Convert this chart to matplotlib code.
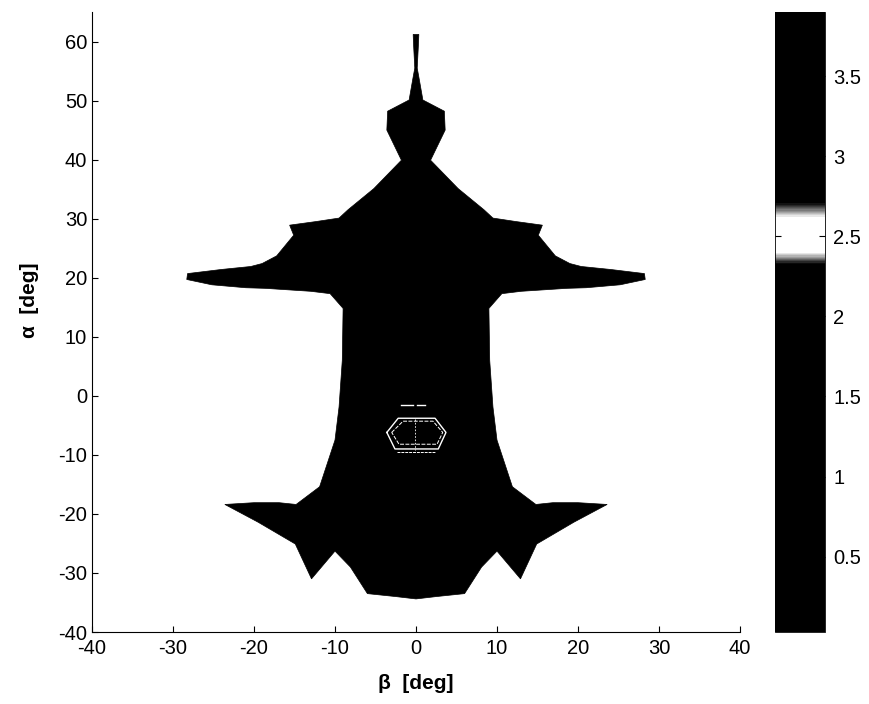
import numpy as np
import matplotlib.pyplot as plt
from matplotlib.colors import LinearSegmentedColormap, Normalize
from matplotlib.cm import ScalarMappable

plt.rcParams['font.family'] = ['Liberation Sans', 'DejaVu Sans']
plt.rcParams['axes.unicode_minus'] = False

# right half of the domain outline (beta >= 0), top to bottom; the shape is symmetric in beta
beta_right = np.array([0.0, 0.35, 0.3, 0.15, 0.35, 0.85, 3.5, 3.6, 1.8, 5.2, 8.4, 9.5,
                       12.4, 15.6, 15.1, 17.2, 19.0, 20.4, 24.0, 28.2, 28.3, 25.2, 21.0, 18.6,
                       13.0, 10.6, 9.0, 9.1, 9.5, 10.0, 11.9, 14.8, 16.9, 20.0, 23.6, 19.5,
                       14.9, 12.9, 10.0, 8.1, 6.0, 2.5, 0.0])
alpha_right = np.array([61.2, 61.2, 59.5, 55.5, 54.0, 50.1, 48.2, 45.0, 39.9, 35.1, 31.5, 30.1,
                        29.5, 28.9, 27.2, 23.7, 22.4, 21.9, 21.4, 20.7, 19.7, 18.8, 18.3, 18.2,
                        17.7, 17.3, 14.8, 6.0, -1.9, -7.5, -15.4, -18.4, -18.1, -18.1, -18.4, -21.4,
                        -25.1, -31.0, -26.3, -29.0, -33.5, -34.0, -34.4])
fill_level = 1.0

# white contour lines (level ~2.5) near the centre
outer_beta = [-3.6, -2.2, 2.35, 3.7, 2.75, -2.6, -3.6]
outer_alpha = [-6.2, -3.8, -3.8, -6.2, -9.0, -9.0, -6.2]
inner_beta = [-3.0, -1.6, 2.1, 3.3, 2.6, -2.1, -3.0]
inner_alpha = [-6.2, -4.3, -4.3, -6.2, -8.2, -8.2, -6.2]
top_dash_beta = [[-1.8, -0.35], [0.1, 1.1]]
top_dash_alpha = [[-1.5, -1.5], [-1.5, -1.5]]
low_beta = [-2.3, 2.4]
low_alpha = [-9.5, -9.5]
mid_beta = [-0.1, -0.1]
mid_alpha = [-4.0, -9.2]

cbar_min, cbar_max = 0.03, 3.9
cbar_ticks = [0.5, 1, 1.5, 2, 2.5, 3, 3.5]

# colormap: black everywhere except a white band around 2.5
band = [(cbar_min, 'black'), (2.33, 'black'), (2.37, '#999999'), (2.40, 'white'),
        (2.62, 'white'), (2.66, '#888888'), (2.71, 'black'), (cbar_max, 'black')]
cmap = LinearSegmentedColormap.from_list(
    'band', [((v - cbar_min) / (cbar_max - cbar_min), c) for v, c in band], N=512)
norm = Normalize(cbar_min, cbar_max)

beta_outline = np.concatenate([beta_right, -beta_right[::-1]])
alpha_outline = np.concatenate([alpha_right, alpha_right[::-1]])

fig = plt.figure(figsize=(8.7, 7.04), dpi=100)
ax = fig.add_axes([92 / 870, 72 / 704, 648 / 870, 620 / 704])

ax.fill(beta_outline, alpha_outline, color=cmap(norm(fill_level)), lw=0.5, ec='black')
ax.plot(outer_beta, outer_alpha, color='white', lw=1.0)
ax.plot(inner_beta, inner_alpha, color='white', lw=0.7, ls=(0, (4, 1.5)))
for b, a in zip(top_dash_beta, top_dash_alpha):
    ax.plot(b, a, color='white', lw=1.0)
ax.plot(low_beta, low_alpha, color='white', lw=0.7, ls=(0, (3, 1)))
ax.plot(mid_beta, mid_alpha, color='white', lw=0.6, ls=(0, (2, 2)))

ax.set_xlim(-40, 40)
ax.set_ylim(-40, 65)
ax.set_xticks(range(-40, 41, 10))
ax.set_yticks(range(-40, 61, 10))
ax.spines['top'].set_visible(False)
ax.spines['right'].set_visible(False)
ax.tick_params(direction='in', length=4, labelsize=14.5)
ax.tick_params(axis='x', pad=5)
ax.set_xlabel('β  [deg]', fontsize=15, fontweight='bold')
ax.set_ylabel('α  [deg]', fontsize=15, fontweight='bold')
ax.xaxis.set_label_coords(0.5, -0.068)
ax.yaxis.set_label_coords(-0.082, 0.535)

cax = fig.add_axes([775 / 870, 72 / 704, 50 / 870, 620 / 704])
cb = fig.colorbar(ScalarMappable(norm=norm, cmap=cmap), cax=cax)
cb.outline.set_linewidth(0.6)
cb.set_ticks(cbar_ticks)
cb.set_ticklabels(['0.5', '1', '1.5', '2', '2.5', '3', '3.5'])
cax.yaxis.set_ticks_position('both')
cax.tick_params(direction='in', length=4, labelsize=14.5, color='black', pad=6)

fig.savefig('out.png', dpi=100)
